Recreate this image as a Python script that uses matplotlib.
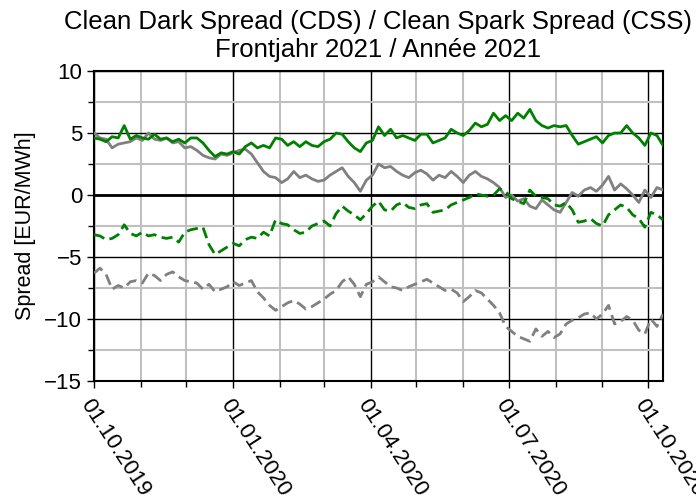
import numpy as np
import pandas as pd
import matplotlib
matplotlib.use("Agg")
import matplotlib.pyplot as plt
import matplotlib.dates as mdates

plt.rcParams['font.family'] = ['Liberation Sans', 'DejaVu Sans']

# sample dates: every 4 days from 01.10.2019
start_date = "2019-10-01"
n_points = 95
step_days = 4

css_base = [4.6, 4.5, 4.3, 4.7, 4.6, 5.6, 4.5, 4.8, 4.6, 4.5, 4.9, 4.5, 4.6, 4.3, 4.5, 4.2,
            4.6, 4.6, 4.2, 3.6, 3.1, 3.4, 3.3, 3.5, 3.3, 3.9, 4.2, 3.8, 4.0, 3.8, 4.6, 4.5,
            4.0, 4.3, 3.9, 4.3, 4.0, 3.9, 4.3, 4.5, 5.0, 4.9, 4.3, 3.8, 3.5, 4.2, 4.4, 5.5,
            4.8, 5.3, 4.6, 4.8, 4.6, 4.4, 4.9, 4.9, 4.2, 4.4, 4.6, 5.3, 5.0, 4.8, 5.2, 5.8,
            5.5, 5.7, 6.6, 6.0, 6.4, 6.0, 6.6, 6.2, 6.9, 6.0, 5.6, 5.4, 5.6, 5.5, 5.6, 4.8,
            4.1, 4.3, 4.5, 4.7, 4.2, 4.8, 5.0, 5.0, 5.6, 5.0, 4.6, 4.0, 5.0, 4.8, 4.0]

cds_base = [5.0, 4.6, 4.5, 3.8, 4.1, 4.2, 4.3, 4.6, 4.4, 5.0, 4.5, 4.4, 4.6, 4.2, 4.3, 3.8,
            3.9, 3.6, 3.2, 3.0, 2.9, 3.3, 3.2, 3.4, 3.6, 3.7, 3.3, 2.6, 1.9, 1.5, 1.4, 1.0,
            1.3, 1.9, 1.4, 1.6, 1.3, 1.1, 1.2, 1.6, 1.9, 2.2, 1.5, 1.0, 0.3, 1.2, 1.6, 2.5,
            2.2, 2.3, 1.9, 1.6, 1.4, 1.8, 2.0, 1.7, 1.2, 1.6, 1.4, 1.9, 1.5, 1.0, 1.6, 1.9,
            1.5, 1.3, 1.0, 0.6, -0.2, 0.0, -0.5, -0.3, -0.9, -1.1, -0.4, -0.8, -1.2, -1.4, -0.6, 0.2,
            -0.1, 0.4, 0.6, 0.3, 0.8, 1.5, 0.4, 0.9, 0.5, 0.0, -0.6, 0.4, -0.2, 0.6, 0.4]

css_peak = [-3.2, -3.3, -3.6, -3.5, -3.2, -2.4, -3.1, -3.3, -3.0, -3.3, -3.2, -3.4, -3.5, -3.4, -3.8, -3.0,
            -2.8, -2.7, -2.6, -4.0, -4.8, -4.5, -4.2, -3.9, -4.1, -3.6, -3.4, -3.5, -3.0, -3.3, -2.0, -2.3,
            -2.4, -2.8, -3.1, -3.0, -2.5, -2.3, -2.1, -2.5, -1.5, -0.9, -1.3, -1.6, -2.0, -1.5, -0.9, -0.5,
            -1.2, -1.3, -0.8, -0.6, -1.0, -1.1, -0.8, -0.7, -1.4, -1.3, -1.2, -0.8, -0.6, -0.4, -0.2, 0.1,
            0.0, -0.1, 0.0, 0.5, 0.3, -0.3, -0.5, -0.7, 0.4, -0.1, -0.2, -0.3, -0.8, -0.9, -0.6, -1.2,
            -2.2, -2.1, -1.9, -2.3, -2.5, -1.6, -1.2, -0.8, -1.0, -1.6, -1.9, -2.6, -1.4, -1.6, -2.0]

cds_peak = [-6.3, -5.9, -6.4, -7.6, -7.3, -7.5, -7.0, -6.9, -7.1, -6.3, -6.5, -6.9, -6.4, -6.2, -6.6, -6.9,
            -7.0, -7.1, -7.6, -7.2, -7.8, -7.6, -7.4, -7.0, -7.3, -7.1, -6.9, -7.8, -8.3, -8.9, -9.3, -9.0,
            -8.7, -8.5, -8.8, -9.2, -9.0, -8.7, -8.4, -8.0, -7.7, -7.0, -6.6, -7.2, -8.2, -7.2, -7.0, -6.6,
            -7.0, -7.4, -7.5, -7.7, -7.4, -7.2, -7.0, -6.8, -7.1, -7.4, -7.7, -7.6, -7.9, -8.6, -8.2, -7.7,
            -7.9, -8.4, -8.9, -9.5, -10.6, -11.0, -11.4, -11.6, -11.8, -10.8, -11.4, -11.0, -11.5, -11.2, -10.4, -10.1,
            -9.9, -9.6, -9.5, -10.0, -9.6, -8.9, -10.4, -10.2, -9.8, -10.1, -10.9, -11.2, -10.0, -10.6, -9.6]

tick_dates = ["2019-10-01", "2020-01-01", "2020-04-01", "2020-07-01", "2020-10-01"]
tick_labels = ["01.10.2019", "01.01.2020", "01.04.2020", "01.07.2020", "01.10.2020"]
title = "Clean Dark Spread (CDS) / Clean Spark Spread (CSS)\nFrontjahr 2021 / Année 2021"
ylabel = "Spread [EUR/MWh]"

dates = pd.date_range(start_date, periods=n_points, freq=f"{step_days}D")

fig = plt.figure(figsize=(6.96, 5.0), dpi=100)
ax = fig.add_axes([0.135, 0.238, 0.8176, 0.62])

green = "#008000"
grey = "#808080"
lw = 2.0
ax.plot(dates, css_base, color=green, lw=lw, zorder=5)
ax.plot(dates, cds_base, color=grey, lw=lw, zorder=4)
ax.plot(dates, css_peak, color=green, lw=lw, ls=(0, (4, 2)), zorder=5)
ax.plot(dates, cds_peak, color=grey, lw=lw, ls=(0, (4, 2)), zorder=4)

ax.set_xlim(pd.Timestamp("2019-10-01"), pd.Timestamp("2020-10-11"))
ax.set_ylim(-15, 10)

ax.set_xticks(pd.to_datetime(tick_dates))
ax.set_xticklabels(tick_labels, rotation=-57, ha="left", va="top", rotation_mode="anchor")
ax.xaxis.set_minor_locator(mdates.MonthLocator())
ax.set_yticks([10, 5, 0, -5, -10, -15])
ax.set_yticklabels(["10", "5", "0", "\u22125", "\u221210", "\u221215"])
ax.set_yticks(np.arange(-12.5, 10, 5), minor=True)

ax.grid(which="minor", color="#c0c0c0", lw=1.5, zorder=0)
ax.grid(which="major", color="black", lw=1.0, zorder=1)
ax.axhline(0, color="black", lw=2.0, zorder=2)
ax.set_axisbelow(True)

ax.tick_params(axis="both", which="major", labelsize=16, direction="out", length=5, width=1, colors="black")
ax.tick_params(axis="both", which="minor", direction="out", length=4, width=1)
ax.tick_params(axis="x", which="major", pad=5)
for s in ax.spines.values():
    s.set_color("black")
    s.set_linewidth(1.5)

ax.set_ylabel(ylabel, fontsize=15.5, labelpad=6)
ax.set_title(title, fontsize=18.5, linespacing=1.2, pad=10)

fig.savefig("out.png", dpi=100)
